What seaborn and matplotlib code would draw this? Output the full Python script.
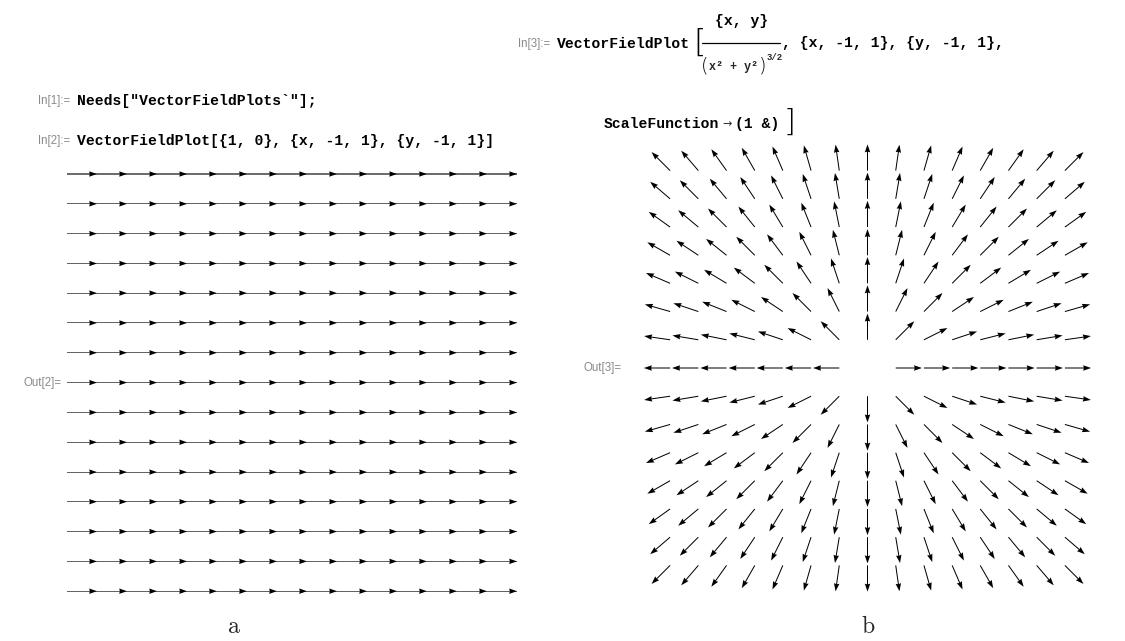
import numpy as np
import matplotlib
matplotlib.use("Agg")
import matplotlib.pyplot as plt
import seaborn as sns
from matplotlib.lines import Line2D

sns.set_style("white")

W, H = 1125, 641

# ---- data ----
# panel a: VectorFieldPlot[{1, 0}, {x, -1, 1}, {y, -1, 1}]
grid_x = [-1.0, -0.857, -0.714, -0.571, -0.429, -0.286, -0.143, 0.0,
          0.143, 0.286, 0.429, 0.571, 0.714, 0.857, 1.0]
grid_y = [-1.0, -0.857, -0.714, -0.571, -0.429, -0.286, -0.143, 0.0,
          0.143, 0.286, 0.429, 0.571, 0.714, 0.857, 1.0]
field_a = (1.0, 0.0)
# panel b: {x, y}/(x^2+y^2)^(3/2), ScaleFunction -> (1&)  (all arrows unit length)
power_b = 1.5
scale_b = 1.0

step = 2.0 / (len(grid_x) - 1)

fig = plt.figure(figsize=(W / 100, H / 100), dpi=100)
fig.patch.set_facecolor("white")


def place(px_l, px_r, py_t, py_b, xlim, ylim):
    ax = fig.add_axes([px_l / W, 1 - py_b / H, (px_r - px_l) / W, (py_b - py_t) / H])
    ax.set_xlim(*xlim)
    ax.set_ylim(*ylim)
    ax.set_axis_off()
    return ax


def T(px, py, s, **kw):
    return fig.text(px / W, 1 - py / H, s, **kw)


MONO = ["Liberation Mono", "DejaVu Sans Mono"]
CODE = dict(family=MONO, weight="bold", fontsize=10.6, color="black", va="center")
LAB = dict(family=["Liberation Sans", "DejaVu Sans"], fontsize=8.3,
           color="#8a8a8a", va="center")
BR = dict(family="DejaVu Sans", fontweight="light", color="black", va="center")

ARW = dict(angles="xy", scale_units="xy", units="dots", pivot="tail")

# ---- panel a ----
sx_a, sy_a = 30.0, 29.8          # pixel spacing of grid
x0_a, y0_a = 67.0, 174.0         # pixel of (-1, +1)
axa = place(x0_a - sx_a, x0_a + 15 * sx_a, y0_a - sy_a, y0_a + 15 * sy_a,
            (-1 - step, 1 + step), (-1 - step, 1 + step))
Xa, Ya = np.meshgrid(grid_x, grid_y)
Ua = np.full_like(Xa, field_a[0])
Va = np.full_like(Ya, field_a[1])
# grey shafts, black heads
axa.quiver(Xa, Ya, Ua, Va, scale=1.0 / step, color="#767676", width=1.1,
           headwidth=1.0, headlength=0.0, headaxislength=0.0, **ARW)
axa.quiver(Xa, Ya, Ua, Va, scale=1.0 / step, color="black", width=0.15,
           headwidth=36.0, headlength=52.0, headaxislength=48.0, **ARW)

# ---- panel b ----
sx_b = 28.2
cx_b, cy_b = 867.5, 368.0
axb = place(cx_b - 8 * sx_b, cx_b + 8 * sx_b, cy_b - 8 * sx_b, cy_b + 8 * sx_b,
            (-1 - step, 1 + step), (-1 - step, 1 + step))
Xb, Yb = np.meshgrid(grid_x, grid_y)
R = np.hypot(Xb, Yb)
keep = R > 1e-9
with np.errstate(divide="ignore", invalid="ignore"):
    Ub = Xb / R ** (2 * power_b)
    Vb = Yb / R ** (2 * power_b)
    M = np.hypot(Ub, Vb)
    Ub = Ub / M * scale_b
    Vb = Vb / M * scale_b
axb.quiver(Xb[keep], Yb[keep], Ub[keep], Vb[keep], scale=1.0 / (0.93 * step),
           color="black", width=1.0, headwidth=5.5, headlength=8.0,
           headaxislength=7.3, **ARW)

# ---- text, left ----
T(70, 101, "In[1]:=", ha="right", **LAB)
T(77, 101, 'Needs["VectorFieldPlots`"];', ha="left", **CODE)
T(70, 141, "In[2]:=", ha="right", **LAB)
T(77, 141, "VectorFieldPlot[{1, 0}, {x, -1, 1}, {y, -1, 1}]", ha="left", **CODE)
T(62, 383, "Out[2]=", ha="right", **LAB)
T(234, 627, "a", ha="center", va="center", family="cmr10", fontsize=17)

# ---- text, right ----
T(550, 44, "In[3]:=", ha="right", **LAB)
T(557, 44, "VectorFieldPlot", ha="left", **CODE)
T(693, 43, "[", ha="left", fontsize=23, **BR)
T(742, 21, "{x, y}", ha="center", **CODE)
fig.add_artist(Line2D([702 / W, 780 / W], [1 - 43 / H, 1 - 43 / H],
                      color="black", lw=0.9))
T(701, 66, "(", ha="left", fontsize=14, **BR)
T(709, 67, "x² + y²", ha="left", family=MONO, weight="bold", fontsize=8.4,
  va="center")
T(759, 66, ")", ha="left", fontsize=14, **BR)
T(767, 57, "3/2", ha="left", va="center", family=MONO, weight="bold",
  fontsize=6.5)
T(782, 43, ", {x, -1, 1}, {y, -1, 1},", ha="left", **CODE)

T(604, 124, "ScaleFunction", ha="left", **CODE)
T(722, 124, "→", ha="left", va="center", family="DejaVu Sans", fontsize=8)
T(735, 124, "(1 &)", ha="left", **CODE)
T(784, 122, "]", ha="left", fontsize=22, **BR)
T(622, 368, "Out[3]=", ha="right", **LAB)
T(868, 627, "b", ha="center", va="center", family="cmr10", fontsize=17)

fig.savefig("out.png", dpi=100, facecolor="white")
